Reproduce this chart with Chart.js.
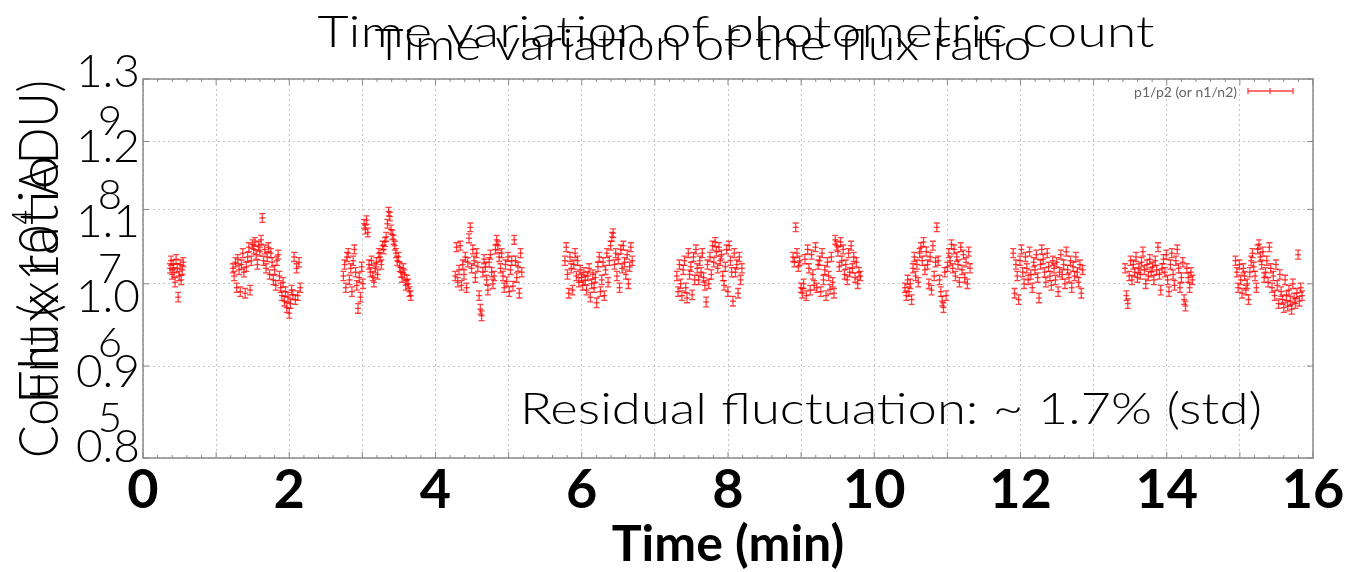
<!DOCTYPE html>
<html>
<head>
<meta charset="utf-8">
<script src="https://cdn.jsdelivr.net/npm/chart.js@4.4.1/dist/chart.umd.min.js"></script>
<style>
  html, body { margin: 0; padding: 0; background: #fff; }
</style>
</head>
<body>
<canvas id="ratio" width="1360" height="572"></canvas>
<script>
// observing blocks (min) and the measured flux ratio p1/p2 in each block
var blockStart = [0.37, 1.23, 2.74, 4.27, 5.77, 7.30, 8.89, 10.42, 11.90, 13.43, 14.94];
var blockEnd   = [0.55, 2.15, 3.66, 5.18, 6.69, 8.19, 9.81, 11.31, 12.85, 14.35, 15.85];

var ratio1 = [1.020,1.030,1.012,1.025,1.015,1.002,1.032,1.020,0.983,1.010,1.025,1.005,1.018,1.028];
var ratio2 = [1.020,1.010,1.028,0.995,1.032,1.018,0.990,1.025,1.040,1.015,0.988,1.022,1.035,1.048,0.992,1.030,1.052,1.045,1.055,1.038,1.025,1.050,1.042,1.058,1.088,1.030,1.045,1.020,1.035,1.048,1.012,1.040,1.028,1.005,1.018,0.998,1.030,1.038,1.010,0.995,0.985,1.002,0.978,0.990,0.970,0.983,0.963,0.975,0.992,0.986,1.035,0.980,1.020,0.985,1.028,0.995];
var ratio3 = [1.010,1.025,0.995,1.035,1.040,1.005,1.020,0.990,1.030,1.045,1.015,0.998,0.969,1.008,0.983,1.022,1.000,1.080,1.072,1.085,1.068,1.025,1.015,1.030,1.010,1.002,1.020,1.028,1.012,1.040,1.035,1.025,1.050,1.045,1.055,1.062,1.080,1.097,1.090,1.072,1.065,1.058,1.050,1.040,1.030,1.035,1.022,1.015,1.008,1.020,1.012,0.998,1.005,1.000,0.990,0.985];
var ratio4 = [1.010,1.048,1.002,1.018,1.050,0.998,1.025,1.012,1.035,0.995,1.028,1.060,1.075,1.020,1.045,1.030,1.008,1.040,1.022,0.985,0.968,0.960,1.015,1.032,1.022,1.005,0.992,1.028,1.038,1.015,1.000,1.010,1.045,1.058,1.050,1.035,1.020,1.040,1.010,0.995,1.025,1.003,1.035,0.990,1.018,1.030,0.997,1.058,1.030,1.008,1.022,0.988,1.040,1.015];
var ratio5 = [1.030,1.048,1.012,0.988,1.035,1.020,0.992,1.025,1.040,1.010,1.030,1.002,1.018,1.008,0.998,1.015,1.005,0.992,1.010,1.020,0.983,1.000,1.012,0.995,1.008,0.976,1.022,1.035,0.990,1.005,1.028,0.985,1.018,1.040,1.002,1.030,1.050,1.062,1.067,1.025,1.040,1.010,1.032,0.995,1.045,1.020,1.050,1.028,1.012,1.038,1.000,1.022,1.048,1.030];
var ratio6 = [1.010,0.990,1.025,1.000,0.985,1.018,1.030,0.995,0.982,1.040,1.012,1.022,0.986,1.035,1.005,1.045,1.020,1.005,1.030,1.015,1.040,1.008,0.998,0.977,1.025,1.000,1.035,1.012,1.050,1.028,1.055,1.042,1.020,1.048,1.030,1.038,1.010,0.998,1.022,1.045,0.990,1.050,1.030,1.015,0.978,1.040,1.015,1.025,0.988,1.035,1.005,1.020];
var ratio7 = [1.035,1.028,1.075,1.040,1.022,1.030,0.995,0.988,1.000,1.032,0.985,1.045,1.020,0.992,1.038,1.012,0.998,1.048,0.995,1.025,1.030,0.990,1.040,1.005,1.018,0.985,1.028,1.010,0.993,1.035,1.002,0.988,1.058,1.050,1.042,1.022,1.055,1.030,1.045,1.012,1.025,1.005,1.040,1.015,1.050,1.020,1.035,1.008,1.028,1.000,1.015,1.010];
var ratio8 = [0.995,0.985,1.005,0.990,1.000,0.980,1.020,1.035,1.010,1.025,1.002,1.040,1.048,1.030,1.055,1.018,1.042,1.025,1.000,1.035,0.992,1.050,1.010,1.028,1.075,1.030,1.005,0.990,0.978,0.970,1.015,0.985,1.022,1.040,1.030,1.052,1.020,1.045,1.010,1.035,1.025,1.002,1.048,1.018,1.038,1.008,1.028,1.000,1.042,1.020];
var ratio9 = [1.040,0.988,1.025,1.010,0.980,1.030,1.045,1.015,1.000,1.035,1.020,1.005,1.042,1.012,0.995,1.028,1.018,1.038,1.008,0.982,1.025,1.045,1.032,1.015,1.002,1.040,1.022,1.010,0.998,1.030,1.020,1.005,1.028,0.990,1.015,1.038,1.012,1.025,1.000,1.042,1.018,1.008,1.030,0.995,1.022,1.010,1.035,1.015,1.002,1.025,0.988,1.018];
var ratio10 = [1.020,0.985,0.975,1.010,1.030,1.005,1.025,1.015,1.035,1.008,1.020,1.012,1.028,1.042,1.018,1.000,1.025,1.010,1.032,1.015,1.022,1.005,1.030,1.018,1.048,1.012,0.992,1.020,1.032,1.015,1.038,1.005,0.990,1.025,1.040,1.012,0.998,1.030,1.045,1.020,0.995,1.008,1.028,0.980,0.972,1.020,1.008,0.995,1.015,1.005];
var ratio11 = [1.030,1.015,0.995,1.025,1.005,0.988,1.020,1.010,0.992,1.000,0.980,1.015,1.030,1.040,1.022,1.010,0.995,1.045,1.052,1.035,1.025,1.042,1.008,1.015,1.030,1.002,1.048,1.020,0.995,1.010,0.985,1.025,0.998,0.975,1.012,0.990,0.980,0.970,1.005,0.985,0.972,0.992,0.978,0.968,1.000,0.982,0.975,0.988,1.038,0.978,0.995,0.985];
var ratioErr = 0.006;

var yTicks = [0.8, 0.9, 1.0, 1.1, 1.2, 1.3];
var countTicks = [5, 6, 7, 8, 9];
var xTicks = [0, 2, 4, 6, 8, 10, 12, 14, 16];

var FONT = 'Lato, "Open Sans", sans-serif';
var RED = 'rgba(255,0,0,0.75)';

// each block is sampled at a fixed cadence between its start and end
var ratioBlocks = [ratio1, ratio2, ratio3, ratio4, ratio5, ratio6, ratio7, ratio8, ratio9, ratio10, ratio11];
var points = [];
ratioBlocks.forEach(function (vals, b) {
  var step = (blockEnd[b] - blockStart[b]) / (vals.length - 1);
  vals.forEach(function (v, i) {
    points.push({ x: blockStart[b] + i * step, y: v });
  });
});

function setTicks(list) {
  return function (scale) {
    scale.ticks = list.map(function (v) { return { value: v }; });
  };
}

// vertical error bars with caps, gnuplot style
var errorBars = {
  id: 'errorBars',
  afterDatasetsDraw: function (chart) {
    var ctx = chart.ctx, ys = chart.scales.y;
    var meta = chart.getDatasetMeta(0);
    ctx.save();
    ctx.strokeStyle = RED;
    ctx.lineWidth = 1.3;
    meta.data.forEach(function (pt, i) {
      var v = points[i].y;
      var top = ys.getPixelForValue(v + ratioErr);
      var bot = ys.getPixelForValue(v - ratioErr);
      ctx.beginPath();
      ctx.moveTo(pt.x, top); ctx.lineTo(pt.x, bot);
      ctx.moveTo(pt.x - 3, top); ctx.lineTo(pt.x + 3, top);
      ctx.moveTo(pt.x - 3, bot); ctx.lineTo(pt.x + 3, bot);
      ctx.stroke();
    });
    ctx.restore();
  }
};

// frame, inward tick marks and the key in the top right corner
var frame = {
  id: 'frame',
  afterDraw: function (chart) {
    var ctx = chart.ctx, a = chart.chartArea;
    var xs = chart.scales.x, ys = chart.scales.y;
    ctx.save();
    ctx.strokeStyle = '#8a8a8a';
    ctx.lineWidth = 1.5;
    ctx.strokeRect(a.left, a.top, a.right - a.left, a.bottom - a.top);
    ctx.lineWidth = 1;
    ctx.beginPath();
    for (var m = 0; m <= 16; m += 0.2) {
      var px = xs.getPixelForValue(m);
      var len = Math.abs(m - Math.round(m)) < 1e-6 ? 6 : 3;
      ctx.moveTo(px, a.bottom); ctx.lineTo(px, a.bottom - len);
      ctx.moveTo(px, a.top); ctx.lineTo(px, a.top + len);
    }
    yTicks.forEach(function (v) {
      var py = ys.getPixelForValue(v);
      ctx.moveTo(a.left, py); ctx.lineTo(a.left + 6, py);
      ctx.moveTo(a.right, py); ctx.lineTo(a.right - 6, py);
    });
    ctx.stroke();

    // key
    ctx.font = '14px ' + FONT;
    ctx.fillStyle = '#666';
    ctx.textAlign = 'right';
    ctx.textBaseline = 'middle';
    ctx.fillText(chart.data.datasets[0].label, 1237, 92);
    ctx.strokeStyle = RED;
    ctx.lineWidth = 1.3;
    ctx.beginPath();
    ctx.moveTo(1248, 91); ctx.lineTo(1293, 91);
    [1248, 1270, 1293].forEach(function (kx) {
      ctx.moveTo(kx, 88); ctx.lineTo(kx, 94);
    });
    ctx.stroke();
    ctx.restore();
  }
};

// draws a string stretched to a given width
function fitText(ctx, text, cx, cy, width, size, angle) {
  ctx.save();
  ctx.font = '300 ' + size + 'px ' + FONT;
  var w = ctx.measureText(text).width;
  ctx.translate(cx, cy);
  if (angle) ctx.rotate(angle);
  ctx.scale(width / w, 1);
  ctx.textAlign = 'center';
  ctx.textBaseline = 'alphabetic';
  ctx.fillStyle = '#000';
  ctx.fillText(text, 0, 0);
  ctx.restore();
}

// tick labels of the ratio axis and of the count axis, both on the left edge
function axisLabels(ctx, scale, list, right, size, fmt) {
  ctx.save();
  ctx.font = '300 ' + size + 'px ' + FONT;
  ctx.fillStyle = '#000';
  ctx.textAlign = 'right';
  ctx.textBaseline = 'middle';
  list.forEach(function (v) {
    ctx.fillText(fmt(v), right, scale.getPixelForValue(v));
  });
  ctx.restore();
}

var captions = {
  id: 'captions',
  afterDraw: function (chart) {
    var ctx = chart.ctx;
    axisLabels(ctx, chart.scales.yl, yTicks, 140, 46, function (v) { return v.toFixed(1); });
    axisLabels(ctx, chart.scales.yc, countTicks, 122, 42, String);
    fitText(ctx, 'Time variation of photometric count', 736, 47, 837, 44);
    fitText(ctx, 'Time variation of the flux ratio', 703, 60, 657, 44);
    fitText(ctx, 'Count (x10\u2074 ADU)', 58, 269, 378, 56, -Math.PI / 2);
    fitText(ctx, 'Flux ratio', 58, 280, 250, 56, -Math.PI / 2);
    fitText(ctx, 'Residual fluctuation: ~ 1.7% (std)', 891, 424, 742, 44);
  }
};

var hiddenLeft = {
  type: 'linear',
  position: 'left',
  ticks: { display: false },
  grid: { display: false, drawTicks: false },
  border: { display: false },
  afterFit: function (s) { s.width = 0; }
};

new Chart(document.getElementById('ratio').getContext('2d'), {
  type: 'scatter',
  data: {
    datasets: [{
      label: 'p1/p2 (or n1/n2)',
      yAxisID: 'y',
      data: points,
      pointStyle: 'line',
      pointRadius: 3,
      borderColor: RED,
      backgroundColor: RED,
      borderWidth: 1.3
    }]
  },
  options: {
    responsive: false,
    animation: false,
    layout: { padding: { top: 79, right: 47, left: 0, bottom: 0 } },
    plugins: {
      legend: { display: false },
      tooltip: { enabled: false }
    },
    scales: {
      x: {
        type: 'linear',
        min: 0,
        max: 16,
        ticks: {
          stepSize: 1,
          autoSkip: false,
          maxRotation: 0,
          padding: 0,
          color: '#000',
          font: { family: FONT, size: 54, weight: 'bold' },
          callback: function (v) { return xTicks.indexOf(v) >= 0 ? String(v) : ''; }
        },
        grid: { color: '#c4c4c4', lineWidth: 1, drawTicks: false },
        border: { display: false, dash: [2, 3] },
        title: {
          display: true,
          text: 'Time (min)',
          color: '#000',
          font: { family: FONT, size: 50, weight: 'bold', lineHeight: 1 },
          padding: { top: 0, bottom: 2 }
        },
        afterFit: function (s) { s.height = 114; }
      },
      y: {
        type: 'logarithmic',
        position: 'left',
        min: 0.8,
        max: 1.3,
        afterBuildTicks: setTicks(yTicks),
        ticks: { display: false },
        grid: { color: '#c4c4c4', lineWidth: 1, drawTicks: false },
        border: { display: false, dash: [2, 3] },
        afterFit: function (s) { s.width = 143; }
      },
      // label scale of the ratio slide (linear spacing)
      yl: Object.assign({}, hiddenLeft, { min: 0.7853, max: 1.2907 }),
      // label scale of the count slide (x10^4 ADU)
      yc: Object.assign({}, hiddenLeft, { min: 4.461, max: 9.566 })
    }
  },
  plugins: [errorBars, frame, captions]
});
</script>
</body>
</html>
